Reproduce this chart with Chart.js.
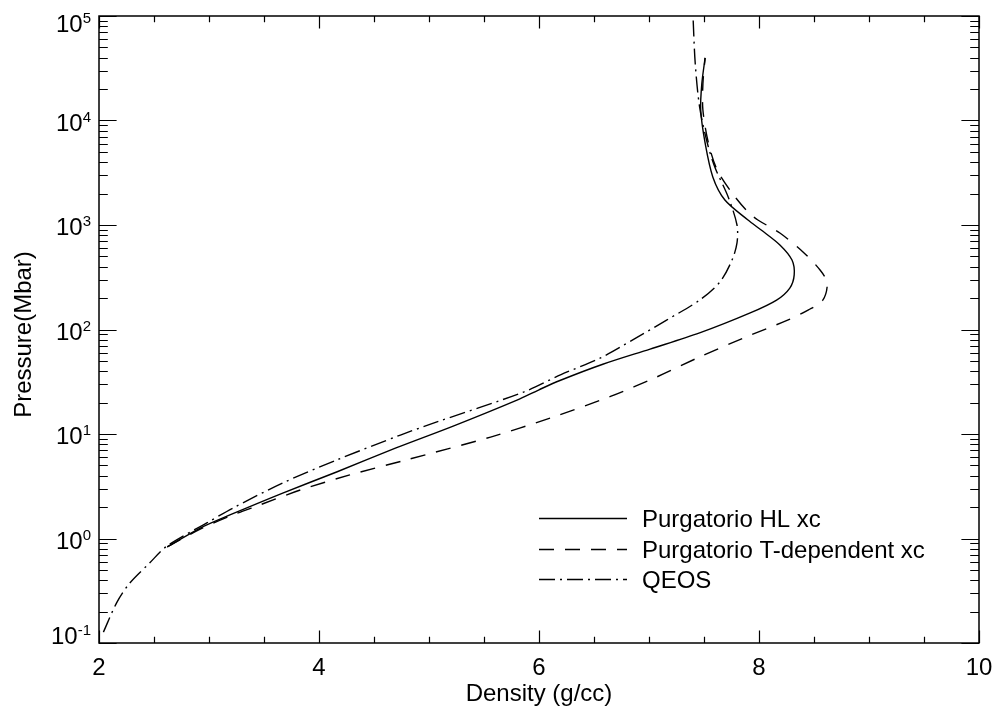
<!DOCTYPE html>
<html>
<head>
<meta charset="utf-8">
<script src="https://cdn.jsdelivr.net/npm/chart.js@4/dist/chart.umd.min.js"></script>
<style>
html,body{margin:0;padding:0;background:#fff;}
canvas{display:block;}
</style>
</head>
<body>
<canvas id="c" width="998" height="713"></canvas>
<script>
// ---- data (density g/cc, pressure Mbar) ----
const seriesLabels = ["Purgatorio HL xc", "Purgatorio T-dependent xc", "QEOS"];

const densHL = [2.62, 2.92, 3.19, 3.67, 4.16, 4.70, 5.22, 5.80, 6.00, 6.19, 6.58, 7.01, 7.46, 7.92, 8.16, 8.28, 8.32, 8.30, 8.19, 8.02, 7.90, 7.69, 7.58, 7.51, 7.47, 7.48, 7.51];
const presHL = [0.83, 1.26, 1.68, 2.72, 4.33, 7.35, 11.9, 21.1, 26.5, 32.5, 46.5, 65.0, 92.7, 144, 191, 249, 333, 462, 644, 895, 1117, 1734, 2884, 6095, 12590, 22400, 39800];

const densT = [2.62, 2.92, 3.19, 3.46, 3.83, 4.28, 4.78, 5.56, 6.10, 6.65, 7.07, 7.46, 7.86, 8.26, 8.45, 8.58, 8.62, 8.555, 8.40, 8.19, 7.99, 7.90, 7.755, 7.62, 7.54, 7.49, 7.49, 7.51];
const presT = [0.83, 1.23, 1.64, 2.09, 2.91, 4.06, 5.6, 9.35, 14.2, 22.9, 35.1, 54.6, 83.0, 123, 154, 191, 279, 371, 552, 838, 1117, 1330, 2023, 3357, 6095, 12590, 22400, 39800];

const densQ = [2.04, 2.16, 2.28, 2.46, 2.62, 2.98, 3.22, 3.67, 4.16, 4.74, 5.04, 5.86, 6.20, 6.56, 6.86, 7.16, 7.46, 7.645, 7.755, 7.80, 7.80, 7.72, 7.60, 7.53, 7.46, 7.42, 7.40];
const presQ = [0.127, 0.242, 0.375, 0.583, 0.85, 1.41, 1.96, 3.40, 5.64, 9.77, 12.7, 25.2, 37.0, 53.5, 80.5, 123, 191, 285, 462, 673, 1000, 1854, 3548, 6095, 13460, 35480, 100000];

const xTickLabels = ["2", "4", "6", "8", "10"];
const xTickValues = [2, 4, 6, 8, 10];
const yDecades = [-1, 0, 1, 2, 3, 4, 5];

const FONT = '"Liberation Sans", Arial, Helvetica, sans-serif';
const dashes = [[], [15, 11], [16, 5, 2, 5]];

function pts(xs, ys) { return xs.map((x, i) => ({x: x, y: ys[i]})); }

const datasets = [
  {label: seriesLabels[0], data: pts(densHL, presHL)},
  {label: seriesLabels[1], data: pts(densT, presT)},
  {label: seriesLabels[2], data: pts(densQ, presQ)}
].map((d, i) => Object.assign(d, {
  showLine: true, borderColor: '#000', borderWidth: 1.4, borderDash: dashes[i],
  pointRadius: 0, pointHoverRadius: 0, tension: 0.3, fill: false
}));

const framePlugin = {
  id: 'frame',
  afterDraw(chart) {
    const ctx = chart.ctx;
    const xs = chart.scales.x, ys = chart.scales.y;
    const a = chart.chartArea;
    const W = a.right - a.left, H = a.bottom - a.top;
    ctx.save();
    ctx.strokeStyle = '#000';
    ctx.fillStyle = '#000';
    ctx.lineWidth = 1.5;
    ctx.setLineDash([]);
    ctx.strokeRect(a.left, a.top, W, H);
    ctx.lineWidth = 1.2;
    ctx.beginPath();
    for (let v = 2; v <= 10.0001; v += 0.5) {
      const px = Math.round(xs.getPixelForValue(v)) + 0.5;
      const major = Math.abs(v / 2 - Math.round(v / 2)) < 1e-6;
      const len = major ? 0.02 * H : 0.01 * H;
      ctx.moveTo(px, a.bottom); ctx.lineTo(px, a.bottom - len);
      ctx.moveTo(px, a.top); ctx.lineTo(px, a.top + len);
    }
    yDecades.forEach(d => {
      const base = Math.pow(10, d);
      const ks = d < 5 ? [1, 2, 3, 4, 5, 6, 7, 8, 9] : [1];
      ks.forEach(k => {
        const py = Math.round(ys.getPixelForValue(k * base)) + 0.5;
        const len = k === 1 ? 0.02 * W : 0.01 * W;
        ctx.moveTo(a.left, py); ctx.lineTo(a.left + len, py);
        ctx.moveTo(a.right, py); ctx.lineTo(a.right - len, py);
      });
    });
    ctx.stroke();

    // x tick labels
    ctx.font = '24px ' + FONT;
    ctx.textAlign = 'center';
    ctx.textBaseline = 'alphabetic';
    xTickValues.forEach((v, i) => {
      ctx.fillText(xTickLabels[i], xs.getPixelForValue(v), a.bottom + 32);
    });

    // y tick labels 10^n
    yDecades.forEach(d => {
      const py = ys.getPixelForValue(Math.pow(10, d));
      let base = py + 10;
      base = Math.min(Math.max(base, a.top + 16), a.bottom + 1);
      const exp = String(d);
      ctx.font = '15px ' + FONT;
      const we = ctx.measureText(exp).width;
      ctx.font = '24px ' + FONT;
      const wb = ctx.measureText('10').width;
      const right = a.left - 8;
      ctx.textAlign = 'left';
      ctx.fillText('10', right - we - wb, base);
      ctx.font = '15px ' + FONT;
      ctx.fillText(exp, right - we, base - 9);
    });

    // axis titles
    ctx.font = '24px ' + FONT;
    ctx.textAlign = 'center';
    ctx.fillText('Density (g/cc)', (a.left + a.right) / 2, a.bottom + 58);
    ctx.save();
    ctx.translate(31, (a.top + a.bottom) / 2 + 5);
    ctx.rotate(-Math.PI / 2);
    ctx.fillText('Pressure(Mbar)', 0, 0);
    ctx.restore();

    // legend
    const rows = [518, 549, 579];
    chart.data.datasets.forEach((ds, i) => {
      ctx.lineWidth = 1.4;
      ctx.setLineDash(ds.borderDash);
      ctx.beginPath();
      ctx.moveTo(539, rows[i] + 0.5);
      ctx.lineTo(627, rows[i] + 0.5);
      ctx.stroke();
      ctx.setLineDash([]);
      ctx.font = '24px ' + FONT;
      ctx.textAlign = 'left';
      ctx.fillText(ds.label, 642, rows[i] + 8.5);
    });
    ctx.restore();
  }
};

new Chart(document.getElementById('c'), {
  type: 'scatter',
  data: {datasets: datasets},
  options: {
    responsive: false,
    animation: false,
    devicePixelRatio: 1,
    layout: {padding: {left: 99, right: 19, top: 16, bottom: 70}},
    plugins: {legend: {display: false}, tooltip: {enabled: false}},
    scales: {
      x: {type: 'linear', min: 2, max: 10, display: false},
      y: {type: 'logarithmic', min: 0.1, max: 100000, display: false}
    }
  },
  plugins: [framePlugin]
});
</script>
</body>
</html>
